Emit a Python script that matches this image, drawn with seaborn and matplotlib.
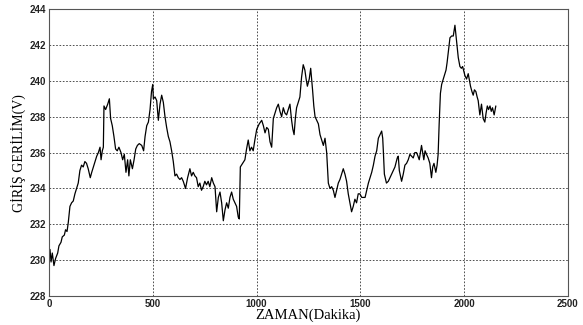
import pandas as pd
import matplotlib
matplotlib.use('Agg')
import matplotlib.pyplot as plt
import seaborn as sns

# time (minutes) and input voltage
minutes = [0, 5, 10, 16, 24, 32, 42, 48, 58, 64, 74, 80, 87, 93, 101, 109, 117, 125, 133, 141,
           149, 157, 165, 173, 181, 189, 199, 206, 214, 222, 230, 238, 246, 251, 257, 262, 265, 273, 283, 291,
           297, 305, 313, 321, 329, 337, 347, 355, 363, 371, 379, 385, 392, 402, 410, 418, 426, 435, 447, 456,
           463, 471, 479, 487, 494, 500, 503, 511, 519, 527, 535, 543, 551, 559, 567, 575, 583, 591, 599, 607,
           615, 623, 631, 639, 647, 658, 668, 679, 687, 695, 703, 711, 719, 727, 735, 743, 751, 759, 767, 775,
           784, 792, 800, 808, 816, 824, 832, 840, 848, 856, 864, 872, 880, 888, 896, 904, 912, 917, 922, 933,
           944, 952, 960, 968, 976, 984, 992, 1001, 1013, 1025, 1033, 1041, 1049, 1057, 1065, 1073, 1081, 1089, 1097, 1105,
           1113, 1121, 1129, 1137, 1145, 1153, 1161, 1169, 1175, 1181, 1187, 1193, 1201, 1209, 1217, 1225, 1233, 1239, 1245, 1254,
           1261, 1270, 1276, 1282, 1290, 1298, 1306, 1314, 1322, 1330, 1338, 1343, 1346, 1354, 1362, 1370, 1378, 1386, 1394, 1402,
           1410, 1418, 1426, 1434, 1442, 1450, 1458, 1466, 1474, 1482, 1490, 1498, 1507, 1515, 1523, 1531, 1539, 1547, 1555, 1563,
           1571, 1579, 1587, 1595, 1603, 1608, 1611, 1616, 1626, 1635, 1643, 1651, 1659, 1667, 1678, 1683, 1688, 1699, 1707, 1715,
           1723, 1731, 1739, 1747, 1755, 1763, 1771, 1778, 1784, 1795, 1806, 1812, 1819, 1827, 1835, 1843, 1849, 1855, 1864, 1870,
           1875, 1880, 1886, 1892, 1900, 1908, 1913, 1918, 1924, 1932, 1940, 1948, 1956, 1964, 1972, 1980, 1987, 1993, 2004, 2012,
           2020, 2031, 2038, 2044, 2050, 2057, 2063, 2068, 2076, 2084, 2092, 2100, 2106, 2112, 2118, 2125, 2131, 2137, 2145, 2153]
voltage = [230.2, 230.6, 229.9, 230.4, 229.7, 230.1, 230.4, 230.8, 231.0, 231.3, 231.4, 231.7, 231.6, 232.1, 233.0, 233.2, 233.3, 233.7, 234.0, 234.3,
           235.0, 235.3, 235.2, 235.5, 235.4, 235.1, 234.6, 234.9, 235.2, 235.5, 235.8, 236.0, 236.3, 235.6, 236.1, 236.3, 238.6, 238.4, 238.7, 239.0,
           237.9, 237.5, 236.9, 236.2, 236.1, 236.3, 236.0, 235.6, 235.9, 234.9, 235.6, 234.7, 235.6, 235.1, 235.6, 236.2, 236.4, 236.5, 236.4, 236.1,
           236.9, 237.5, 237.7, 238.4, 239.4, 239.8, 239.0, 239.1, 238.9, 237.8, 238.7, 239.2, 238.8, 238.0, 237.4, 236.9, 236.6, 236.1, 235.5, 234.7,
           234.8, 234.6, 234.5, 234.6, 234.4, 234.0, 234.6, 235.1, 234.7, 234.9, 234.7, 234.6, 234.1, 234.3, 233.9, 234.1, 234.4, 234.2, 234.4, 234.1,
           234.6, 234.3, 234.1, 232.7, 233.5, 233.8, 233.2, 232.2, 232.8, 233.2, 232.9, 233.5, 233.8, 233.4, 233.2, 233.0, 232.4, 232.3, 235.2, 235.4,
           235.6, 236.2, 236.7, 236.1, 236.3, 236.1, 236.7, 237.3, 237.6, 237.8, 237.5, 237.1, 237.4, 237.3, 236.6, 236.3, 237.9, 238.2, 238.5, 238.7,
           238.3, 238.0, 238.5, 238.2, 238.1, 238.4, 238.7, 237.8, 237.3, 237.0, 237.9, 238.5, 238.8, 239.1, 240.2, 240.9, 240.6, 240.1, 239.7, 240.1,
           240.7, 239.5, 238.6, 238.0, 237.8, 237.6, 237.0, 236.7, 236.4, 236.8, 236.0, 235.0, 234.3, 234.0, 234.1, 233.9, 233.5, 233.9, 234.3, 234.5,
           234.8, 235.1, 234.8, 234.4, 233.7, 233.2, 232.7, 233.0, 233.4, 233.2, 233.7, 233.7, 233.5, 233.5, 233.5, 233.9, 234.3, 234.6, 234.9, 235.3,
           235.8, 236.1, 236.8, 237.0, 237.2, 236.8, 236.1, 234.8, 234.3, 234.4, 234.6, 234.8, 235.0, 235.2, 235.7, 235.8, 235.0, 234.4, 234.8, 235.3,
           235.4, 235.6, 235.9, 235.8, 235.7, 236.0, 236.0, 235.8, 235.6, 236.4, 235.6, 236.1, 235.9, 235.7, 235.4, 234.6, 235.2, 235.4, 234.9, 235.3,
           235.9, 237.6, 239.3, 239.8, 240.1, 240.4, 240.6, 241.0, 241.6, 242.4, 242.5, 242.5, 243.1, 242.2, 241.3, 240.8, 240.7, 240.8, 240.3, 240.1,
           240.4, 239.7, 239.4, 239.2, 239.5, 239.4, 239.1, 238.9, 238.1, 238.7, 237.9, 237.7, 238.2, 238.6, 238.4, 238.6, 238.3, 238.5, 238.1, 238.6]

x_ticks = [0, 500, 1000, 1500, 2000, 2500]
y_ticks = [228, 230, 232, 234, 236, 238, 240, 242, 244]

df = pd.DataFrame({'minute': minutes, 'voltage': voltage})

sns.set_style('white')
plt.rcParams['font.family'] = ['Liberation Sans', 'DejaVu Sans']

fig = plt.figure(figsize=(5.83, 3.25), dpi=100)
ax = fig.add_axes([0.084, 0.089, 0.890, 0.883])

sns.lineplot(data=df, x='minute', y='voltage', color='black', linewidth=0.9, ax=ax)

ax.set_xlim(0, 2500)
ax.set_ylim(228, 244)
ax.set_xticks(x_ticks)
ax.set_yticks(y_ticks)
ax.tick_params(direction='in', length=3, width=0.6, labelsize=7, colors='#222222', pad=2)
for lbl in ax.get_xticklabels() + ax.get_yticklabels():
    lbl.set_fontweight('bold')
ax.grid(True, color='black', linestyle=(0, (2, 2)), linewidth=0.6, alpha=0.8)
for s in ax.spines.values():
    s.set_color('#555555')
    s.set_linewidth(0.8)

ax.set_xlabel('ZAMAN(Dakika)', family=['Liberation Serif'], fontsize=10.5, color='black', labelpad=0)
ax.set_ylabel('GİRİŞ GERİLİM(V)', family=['Liberation Serif'], fontsize=10, color='black', labelpad=3)

plt.savefig('out.png', dpi=100)
